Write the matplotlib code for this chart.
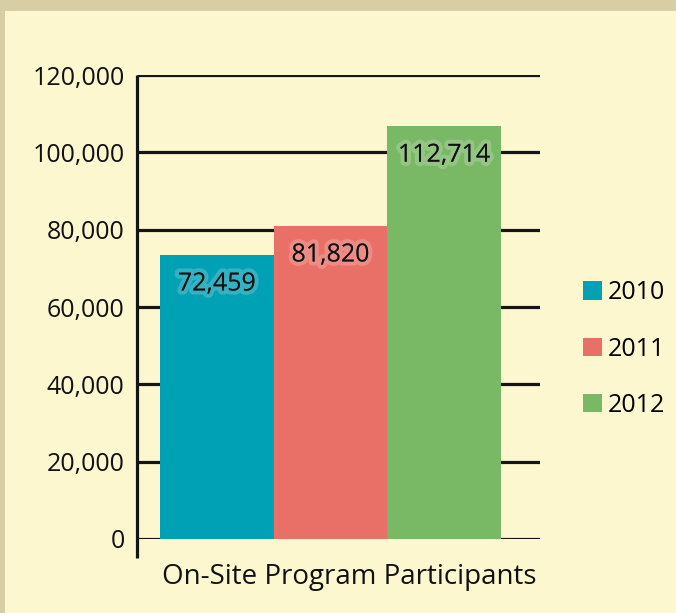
import matplotlib
matplotlib.use("Agg")
import matplotlib.pyplot as plt
import matplotlib.patches as mpatches
import matplotlib.patheffects as pe
from matplotlib.ticker import FuncFormatter

years = ["2010", "2011", "2012"]
bar_heights = [73500, 81000, 106800]
value_labels = ["72,459", "81,820", "112,714"]
colors = ["#00a0b5", "#e97067", "#79b865"]
category = "On-Site Program Participants"
yticks = [0, 20000, 40000, 60000, 80000, 100000, 120000]

plt.rcParams["font.family"] = ["Open Sans", "DejaVu Sans"]

W, H = 676, 613
fig = plt.figure(figsize=(W / 100, H / 100), dpi=100)
fig.patch.set_facecolor("#d8cea6")
panel = mpatches.Rectangle((5 / W, 0), 1, 1 - 11 / H, transform=fig.transFigure,
                           facecolor="#fdf7cf", edgecolor="none", zorder=-10)
fig.add_artist(panel)

ax = fig.add_axes([137 / W, 1 - 539 / H, (540 - 137) / W, (539 - 75) / H])
ax.set_zorder(1)
ax.set_facecolor("none")
for s in ax.spines.values():
    s.set_visible(False)

x = list(range(len(years)))
bars = ax.bar(x, bar_heights, width=1.0, color=colors, zorder=2)
ax.set_xlim(-0.5 - 23 / 113.7, 2.5 + 39 / 113.7)
ax.set_ylim(0, 120000)
ax.set_yticks(yticks)
ax.yaxis.set_major_formatter(FuncFormatter(lambda v, p: f"{int(v):,}"))
ax.tick_params(axis="y", length=0, pad=9, labelsize=18, labelcolor="#111111")
ax.set_xticks([])
for t in yticks:
    ax.axhline(t, color="#151515", lw=2.3, zorder=1, solid_capstyle="butt")
ax.plot([0, 0], [-0.04, 1.0], transform=ax.transAxes, color="#151515", lw=2.3,
        clip_on=False, zorder=3, solid_capstyle="butt")

glow = [pe.withStroke(linewidth=6, foreground=(1, 1, 1, 0.2))]
for xi, h, lab in zip(x, bar_heights, value_labels):
    ax.annotate(lab, (xi, h), xytext=(0, -21), textcoords="offset points",
                ha="center", va="center", fontsize=18, color="#111111",
                path_effects=glow, zorder=4)

fig.text((162 + 537) / 2 / W, 1 - 577 / H, category, ha="center", va="center",
         fontsize=20, color="#111111")

handles = [mpatches.Patch(facecolor=c, edgecolor="none", label=y) for c, y in zip(colors, years)]
fig.legend(handles=handles, loc="center left", bbox_to_anchor=(583 / W, 1 - 349 / H),
           frameon=False, fontsize=18, handlelength=0.74, handleheight=0.74,
           handletextpad=0.25, labelspacing=1.25, borderpad=0, borderaxespad=0)

fig.savefig("out.png", dpi=100, facecolor=fig.get_facecolor())
